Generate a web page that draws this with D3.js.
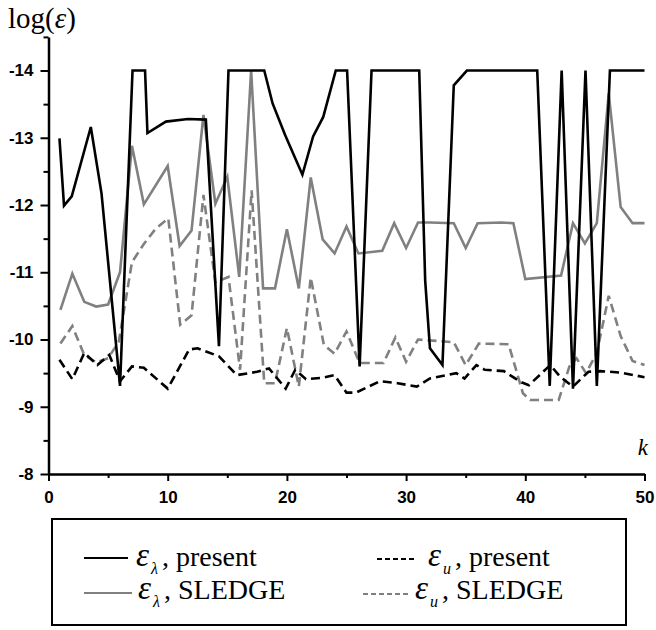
<!DOCTYPE html>
<html>
<head>
<meta charset="utf-8">
<script src="https://cdn.jsdelivr.net/npm/d3@7"></script>
<style>
body { margin: 0; background: #fff; }
svg { display: block; }
</style>
</head>
<body>
<div id="vizcont"></div>
<script>
// values: k position and log(eps)
var kLamPresent = [0.92,1.3,1.95,3.55,4.45,6.0,7.05,8.1,8.3,9.85,11.7,13.2,14.3,15.1,18.1,18.8,19.85,21.3,22.2,23.05,24.1,25.05,26.1,27.1,31.1,31.6,32.0,33.05,34.0,35.1,41.0,42.05,43.05,44.0,45.05,46.0,47.1,50];
var lamPresent  = [-12.99,-11.99,-12.13,-13.16,-12.17,-9.31,-14,-14,-13.07,-13.24,-13.28,-13.27,-9.9,-14,-14,-13.51,-13.04,-12.45,-13.02,-13.31,-14,-14,-9.6,-14,-14,-10.88,-9.87,-9.62,-13.78,-14,-14,-9.31,-14,-9.27,-14,-9.31,-14,-14];

var kLamSledge = [1,2,3,4,5,6,7,8,10,11,12,13,14,15,16,17,18,19,20,21,22,23,24,25,26,28,29,30,31,32,34,35,36,38,39,40,43,44,45,46,47,48,49,50];
var lamSledge  = [-10.44,-10.98,-10.56,-10.49,-10.52,-11.0,-12.88,-12.01,-12.58,-11.39,-11.62,-13.34,-12.02,-12.42,-10.93,-14,-10.76,-10.76,-11.64,-10.76,-12.41,-11.49,-11.28,-11.68,-11.28,-11.32,-11.73,-11.36,-11.74,-11.74,-11.73,-11.36,-11.73,-11.74,-11.73,-10.90,-10.95,-11.73,-11.43,-11.73,-13.66,-11.97,-11.73,-11.73];

var kUPresent = [0.92,2.0,3.0,4.1,5.1,6.0,7.0,8.0,10.0,11.8,12.5,14.3,15.8,17.5,18.5,19.9,20.7,21.6,23.0,24.0,25.0,25.8,27.8,29.3,30.9,32.0,34.2,34.9,35.9,36.6,38.2,39.6,40.3,42.1,42.9,44.0,45.3,46.3,47.9,50];
var uPresent  = [-9.70,-9.41,-9.80,-9.62,-9.77,-9.38,-9.60,-9.58,-9.27,-9.85,-9.87,-9.75,-9.47,-9.52,-9.57,-9.27,-9.55,-9.41,-9.43,-9.47,-9.21,-9.21,-9.38,-9.35,-9.30,-9.42,-9.50,-9.42,-9.62,-9.55,-9.53,-9.37,-9.32,-9.62,-9.45,-9.30,-9.52,-9.53,-9.51,-9.44];

var kUSledge = [1,2,3,4,5,5.9,7,8,9,10.05,11.05,12,13,14,15.1,16.07,17.04,18.1,19,20,21,22,23.1,24,25,26.1,28.1,29.1,30,31,34,35,36.1,38.6,39.8,40.4,42.8,43.7,44.3,45.1,46,47,48,49,50];
var uSledge  = [-9.94,-10.2,-9.77,-9.66,-9.72,-9.97,-11.15,-11.42,-11.65,-11.80,-10.22,-10.36,-12.15,-10.85,-10.93,-9.55,-12.22,-9.35,-9.35,-10.17,-9.3,-10.92,-9.92,-9.79,-10.12,-9.65,-9.65,-10.03,-9.67,-10.0,-9.96,-9.62,-9.94,-9.93,-9.2,-9.1,-9.1,-9.6,-9.72,-9.5,-9.8,-10.65,-10.05,-9.68,-9.62];

var xTicks = [0,10,20,30,40,50];
var yTicks = [-14,-13,-12,-11,-10,-9,-8];

var width = 656, height = 630;
var serif = "'Liberation Serif','Times New Roman',serif";
var sans = "'Liberation Sans',Arial,sans-serif";

var svg = d3.select("#vizcont")
		.append("svg")
		.attr("width", width)
		.attr("height", height)
		.style("background", "#fff");

// scales
var x = d3.scaleLinear().domain([0, 50]).range([48.5, 644.5]);
var y = d3.scaleLinear().domain([-8, -14.5]).range([474, 36.9]);

// minor ticks first, then the labelled axes
svg.append("g")
	.attr("transform", "translate(0,474)")
	.call(d3.axisBottom(x).tickValues(d3.range(5, 50, 10)).tickSize(4).tickSizeOuter(0).tickFormat(""))
	.call(function(g) { g.select(".domain").remove(); })
	.selectAll("line").attr("stroke-width", 2);

svg.append("g")
	.attr("transform", "translate(48.5,0)")
	.call(d3.axisLeft(y).tickValues(d3.range(-14.5, -8, 1)).tickSize(5).tickSizeOuter(0).tickFormat(""))
	.call(function(g) { g.select(".domain").remove(); })
	.selectAll("line").attr("stroke-width", 2);

var xAxis = svg.append("g")
	.attr("transform", "translate(0,474)")
	.call(d3.axisBottom(x).tickValues(xTicks).tickSize(7).tickSizeOuter(0).tickPadding(10).tickFormat(function(d) { return String(d); }));

var yAxis = svg.append("g")
	.attr("transform", "translate(48.5,0)")
	.call(d3.axisLeft(y).tickValues(yTicks).tickSize(8).tickSizeOuter(0).tickPadding(7).tickFormat(function(d) { return String(d); }));

[xAxis, yAxis].forEach(function(g) {
	g.select(".domain").attr("stroke-width", 2.5);
	g.selectAll(".tick line").attr("stroke-width", 2);
	g.selectAll("text")
		.style("font-family", sans)
		.style("font-weight", "bold")
		.style("font-size", "17px")
		.attr("fill", "#000");
});

// data lines
var line = d3.line()
	.x(function(d) { return x(d[0]); })
	.y(function(d) { return y(d[1]); });

function zipSeries(ks, vs) {
	return ks.map(function(k, i) { return [k, vs[i]]; });
}

var series = [
	{ data: zipSeries(kUSledge, uSledge), color: "#808080", dash: "9,5" },
	{ data: zipSeries(kLamSledge, lamSledge), color: "#808080", dash: null },
	{ data: zipSeries(kUPresent, uPresent), color: "#000", dash: "9,5" },
	{ data: zipSeries(kLamPresent, lamPresent), color: "#000", dash: null }
];

series.forEach(function(s) {
	svg.append("path")
		.datum(s.data)
		.attr("d", line)
		.attr("fill", "none")
		.attr("stroke", s.color)
		.attr("stroke-width", 2.6)
		.attr("stroke-linejoin", "miter")
		.attr("stroke-dasharray", s.dash);
});

// axis titles
var yTitle = svg.append("text")
	.attr("x", 8)
	.attr("y", 28)
	.style("font-family", serif)
	.style("font-size", "29px");
yTitle.append("tspan").text("log(");
yTitle.append("tspan").style("font-style", "italic").text("ε");
yTitle.append("tspan").text(")");

svg.append("text")
	.attr("x", 648)
	.attr("y", 455)
	.attr("text-anchor", "end")
	.style("font-family", serif)
	.style("font-style", "italic")
	.style("font-size", "23px")
	.text("k");

// legend
svg.append("rect")
	.attr("x", 52)
	.attr("y", 519)
	.attr("width", 574)
	.attr("height", 106)
	.attr("fill", "none")
	.attr("stroke", "#000")
	.attr("stroke-width", 2);

var legendItems = [
	{ x1: 84, x2: 128, ly: 558, tx: 136, ty: 566, sub: "λ", rest: ", present", color: "#000", dash: null },
	{ x1: 377, x2: 415, ly: 559, tx: 428, ty: 566, sub: "u", rest: ", present", color: "#000", dash: "5,3" },
	{ x1: 84, x2: 132, ly: 593, tx: 138, ty: 599, sub: "λ", rest: ", SLEDGE", color: "#808080", dash: null },
	{ x1: 363, x2: 411, ly: 594, tx: 415, ty: 599, sub: "u", rest: ", SLEDGE", color: "#808080", dash: "5,3" }
];

legendItems.forEach(function(it) {
	svg.append("line")
		.attr("x1", it.x1).attr("x2", it.x2)
		.attr("y1", it.ly).attr("y2", it.ly)
		.attr("stroke", it.color)
		.attr("stroke-width", 2.2)
		.attr("stroke-dasharray", it.dash);
	var t = svg.append("text")
		.attr("x", it.tx)
		.attr("y", it.ty)
		.style("font-family", serif)
		.style("font-size", "28px");
	t.append("tspan").style("font-style", "italic").style("font-size", "33px").text("ε");
	t.append("tspan").style("font-style", "italic").style("font-size", "16px").attr("dy", 8).attr("dx", 2).text(it.sub);
	t.append("tspan").attr("dy", -8).attr("dx", 4).text(it.rest);
});
</script>
</body>
</html>
